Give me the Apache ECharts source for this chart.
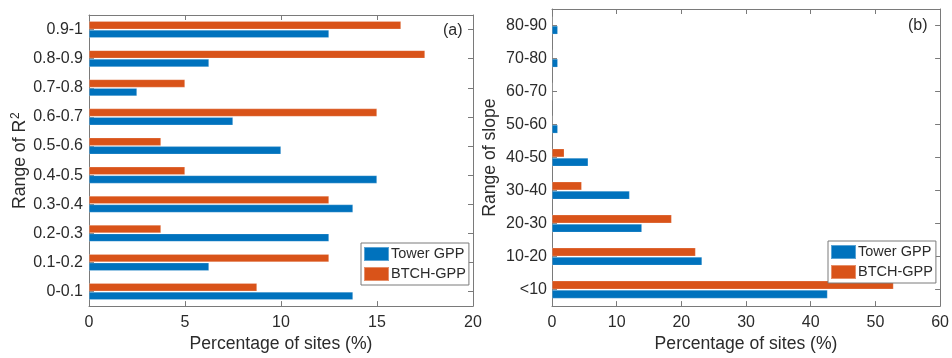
<!DOCTYPE html>
<html>
<head>
<meta charset="utf-8">
<script src="https://cdn.jsdelivr.net/npm/echarts@6/dist/echarts.min.js"></script>
<style>
  html, body { margin: 0; padding: 0; background: #fff; }
  #chart { width: 952px; height: 358px; }
</style>
</head>
<body>
<div id="chart"></div>
<script>
// Panel (a): share of sites per R² range
const catsR2 = ['0-0.1', '0.1-0.2', '0.2-0.3', '0.3-0.4', '0.4-0.5', '0.5-0.6', '0.6-0.7', '0.7-0.8', '0.8-0.9', '0.9-1'];
const towerR2 = [13.75, 6.25, 12.5, 13.75, 15, 10, 7.5, 2.5, 6.25, 12.5];
const btchR2 = [8.75, 12.5, 3.75, 12.5, 5, 3.75, 15, 5, 17.5, 16.25];
const ticksR2 = [0, 5, 10, 15, 20];

// Panel (b): share of sites per slope range
const catsSlope = ['<10', '10-20', '20-30', '30-40', '40-50', '50-60', '60-70', '70-80', '80-90'];
const towerSlope = [42.6, 23.2, 13.9, 12.0, 5.6, 0.9, 0, 0.9, 0.9];
const btchSlope = [52.8, 22.2, 18.5, 4.6, 1.9, 0, 0, 0, 0];
const ticksSlope = [0, 10, 20, 30, 40, 50, 60];

const seriesNames = ['Tower GPP', 'BTCH-GPP'];
const BLUE = '#0072BD';
const ORANGE = '#D95319';
const FONT = 'Liberation Sans, Arial, sans-serif';
const AXIS_COLOR = '#7a7a7a';
const TEXT_COLOR = '#2b2b2b';

// box-style axes: ticks point into the plot on all four sides
function tick(extra) {
  return Object.assign({ show: true, inside: true, length: 5, lineStyle: { color: AXIS_COLOR, width: 1 } }, extra || {});
}
const boxLine = { show: true, onZero: false, lineStyle: { color: AXIS_COLOR, width: 1 } };

function valueAxes(gridIndex, ticks) {
  const step = ticks[1] - ticks[0];
  const base = {
    type: 'value', gridIndex: gridIndex,
    min: ticks[0], max: ticks[ticks.length - 1], interval: step,
    splitLine: { show: false }, axisLine: boxLine, axisTick: tick()
  };
  return [
    Object.assign({}, base, {
      position: 'bottom',
      axisLabel: { fontFamily: FONT, fontSize: 16, color: TEXT_COLOR, margin: 8 },
      name: 'Percentage of sites (%)', nameLocation: 'middle', nameGap: 27,
      nameTextStyle: { fontFamily: FONT, fontSize: 17.6, color: TEXT_COLOR }
    }),
    Object.assign({}, base, { position: 'top', axisLabel: { show: false } })
  ];
}

function categoryAxes(gridIndex, cats, name, gap, margin) {
  const base = {
    type: 'category', gridIndex: gridIndex, data: cats,
    axisLine: boxLine, axisTick: tick({ alignWithLabel: true }),
    splitLine: { show: false }
  };
  return [
    Object.assign({}, base, {
      position: 'left',
      axisLabel: { fontFamily: FONT, fontSize: 16, color: TEXT_COLOR, margin: margin },
      name: name, nameLocation: 'middle', nameGap: gap, nameRotate: 90,
      nameTextStyle: {
        fontFamily: FONT, fontSize: 17.6, color: TEXT_COLOR,
        rich: { sup: { fontFamily: FONT, fontSize: 12, color: TEXT_COLOR, verticalAlign: 'top', padding: [0, 0, 10, 1] } }
      }
    }),
    Object.assign({}, base, { position: 'right', axisLabel: { show: false } })
  ];
}

function bars(name, data, color, xi, yi, width) {
  return {
    type: 'bar', name: name, data: data,
    xAxisIndex: xi, yAxisIndex: yi,
    barWidth: width, barGap: '8%',
    itemStyle: { color: color, borderColor: 'rgba(255,255,255,0.35)', borderWidth: 0.6 }
  };
}

function legendAt(left, top) {
  return {
    data: seriesNames.map(function (n) { return { name: n, icon: 'rect' }; }),
    orient: 'vertical', left: left, top: top,
    itemWidth: 25, itemHeight: 14, itemGap: 4,
    padding: [3, 3, 3, 2],
    backgroundColor: '#fff', borderColor: AXIS_COLOR, borderWidth: 1,
    selectedMode: false,
    textStyle: { fontFamily: FONT, fontSize: 14.5, lineHeight: 15, color: TEXT_COLOR, padding: [0, 0, 0, -3] }
  };
}

const chart = echarts.init(document.getElementById('chart'), null, { renderer: 'canvas' });
chart.setOption({
  animation: false,
  backgroundColor: '#fff',
  grid: [
    { left: 89, top: 15, right: 479, bottom: 45 },
    { left: 552, top: 9, right: 9, bottom: 45 }
  ],
  xAxis: valueAxes(0, ticksR2).concat(valueAxes(1, ticksSlope)),
  yAxis: categoryAxes(0, catsR2, 'Range of R{sup|2}', 55, 6).concat(categoryAxes(1, catsSlope, 'Range of slope', 53, 5)),
  legend: [legendAt(361, 243), legendAt(828, 241)],
  graphic: [
    { type: 'text', left: 443, top: 23, style: { text: '(a)', font: '16px ' + FONT, fill: TEXT_COLOR } },
    { type: 'text', left: 908, top: 18, style: { text: '(b)', font: '16px ' + FONT, fill: TEXT_COLOR } }
  ],
  // upper bar of each pair is the BTCH series, so it is listed first
  series: [
    bars(seriesNames[1], btchR2, ORANGE, 0, 0, 8),
    bars(seriesNames[0], towerR2, BLUE, 0, 0, 8),
    bars(seriesNames[1], btchSlope, ORANGE, 2, 2, 8.5),
    bars(seriesNames[0], towerSlope, BLUE, 2, 2, 8.5)
  ]
});
</script>
</body>
</html>
